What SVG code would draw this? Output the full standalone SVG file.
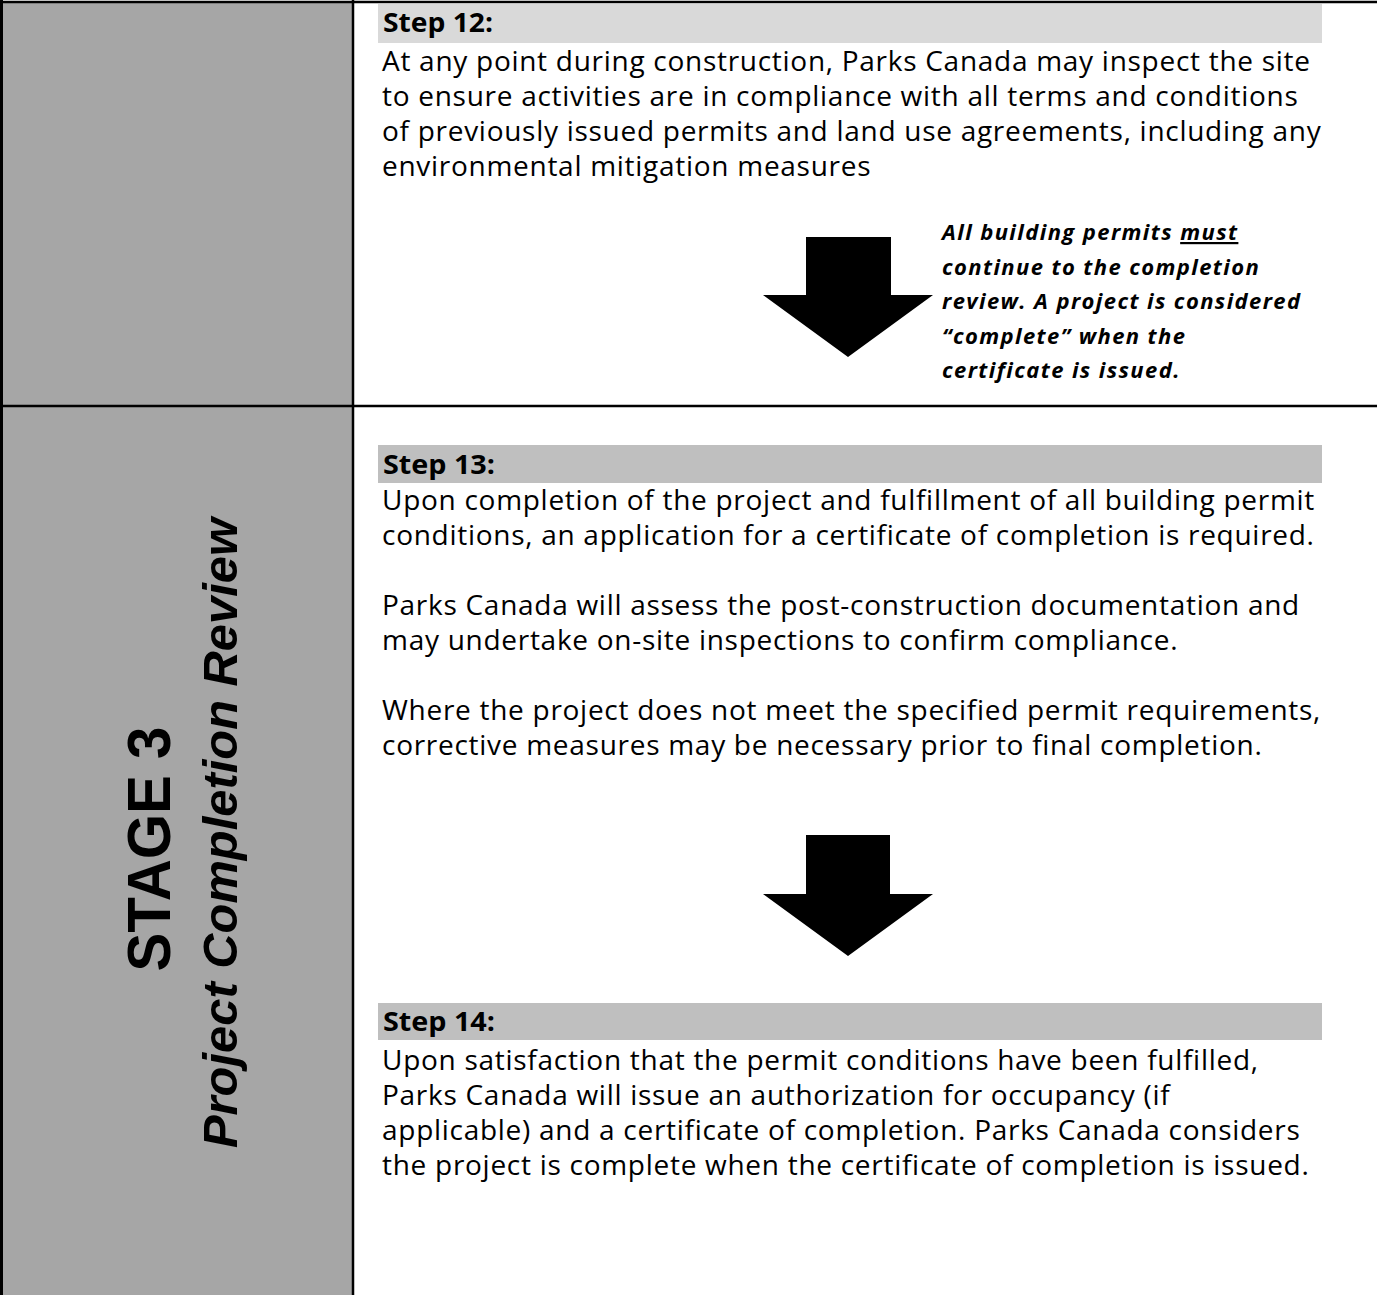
<svg xmlns="http://www.w3.org/2000/svg" width="1377" height="1295" viewBox="0 0 1377 1295">
<style>
.body{font-family:"Open Sans","Liberation Sans",sans-serif;font-size:28px;letter-spacing:0.72px;fill:#000}
.step{font-family:"Open Sans","Liberation Sans",sans-serif;font-size:26px;font-weight:bold;fill:#000}
.note{font-family:"Open Sans","Liberation Sans",sans-serif;font-size:22px;letter-spacing:1.4px;font-weight:bold;font-style:italic;fill:#000}
.ln{stroke:#000;stroke-width:2.5;fill:none}
</style>
<rect x="0" y="0" width="1377" height="1295" fill="#fff"/>
<g id="stage-column">
<rect x="2" y="2" width="351" height="1293" fill="#a6a6a6"/>
<text x="170" y="849" transform="rotate(-90 170 849)" text-anchor="middle" font-family="'Liberation Sans',Arial,sans-serif" font-weight="bold" font-size="62" textLength="245" lengthAdjust="spacingAndGlyphs">STAGE 3</text>
<text x="237" y="833" transform="rotate(-90 237 833)" text-anchor="middle" font-family="'Liberation Sans',Arial,sans-serif" font-weight="bold" font-style="italic" font-size="49" textLength="630" lengthAdjust="spacingAndGlyphs">Project Completion Review</text>
</g>
<g id="grid">
<line class="ln" x1="1.5" y1="0" x2="1.5" y2="1295" style="stroke-width:3"/>
<line class="ln" x1="0" y1="2" x2="1377" y2="2"/>
<line class="ln" x1="353" y1="0" x2="353" y2="1295"/>
<line class="ln" x1="0" y1="406" x2="1377" y2="406"/>
</g>
<g id="step12">
<rect x="378" y="4" width="944" height="39" fill="#d9d9d9"/>
<text class="step" x="383" y="32" textLength="110" lengthAdjust="spacingAndGlyphs">Step 12:</text>
<text class="body" x="382" y="71">At any point during construction, Parks Canada may inspect the site</text>
<text class="body" x="382" y="106">to ensure activities are in compliance with all terms and conditions</text>
<text class="body" x="382" y="141">of previously issued permits and land use agreements, including any</text>
<text class="body" x="382" y="176">environmental mitigation measures</text>
</g>
<g id="note">
<text class="note" x="942" y="240">All building permits <tspan text-decoration="underline">must</tspan></text>
<text class="note" x="942" y="275">continue to the completion</text>
<text class="note" x="942" y="309">review. A project is considered</text>
<text class="note" x="942" y="344">“complete” when the</text>
<text class="note" x="942" y="378">certificate is issued.</text>
</g>
<g id="step13">
<rect x="378" y="445" width="944" height="38" fill="#bfbfbf"/>
<text class="step" x="383" y="474" textLength="112" lengthAdjust="spacingAndGlyphs">Step 13:</text>
<text class="body" x="382" y="510">Upon completion of the project and fulfillment of all building permit</text>
<text class="body" x="382" y="545">conditions, an application for a certificate of completion is required.</text>
<text class="body" x="382" y="615">Parks Canada will assess the post-construction documentation and</text>
<text class="body" x="382" y="650">may undertake on-site inspections to confirm compliance.</text>
<text class="body" x="382" y="720">Where the project does not meet the specified permit requirements,</text>
<text class="body" x="382" y="755">corrective measures may be necessary prior to final completion.</text>
</g>
<g id="step14">
<rect x="378" y="1003" width="944" height="37" fill="#bfbfbf"/>
<text class="step" x="383" y="1031" textLength="112" lengthAdjust="spacingAndGlyphs">Step 14:</text>
<text class="body" x="382" y="1070">Upon satisfaction that the permit conditions have been fulfilled,</text>
<text class="body" x="382" y="1105">Parks Canada will issue an authorization for occupancy (if</text>
<text class="body" x="382" y="1140">applicable) and a certificate of completion. Parks Canada considers</text>
<text class="body" x="382" y="1175">the project is complete when the certificate of completion is issued.</text>
</g>
<g id="connectors">
<polygon points="806,237 891,237 891,295 933,295 848,357 763,295 806,295" fill="#000"/>
<polygon points="806,835 890,835 890,894 933,894 848,956 763,894 806,894" fill="#000"/>
</g>
</svg>
